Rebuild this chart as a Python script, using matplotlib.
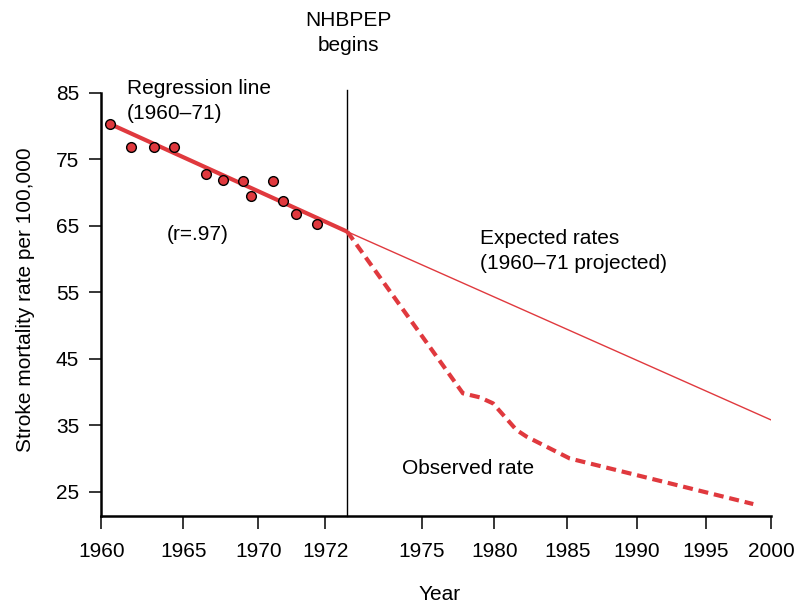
import numpy as np
import matplotlib as mpl
mpl.use('Agg')
import matplotlib.pyplot as plt

mpl.rcParams['font.family'] = ['Liberation Sans', 'DejaVu Sans']

RED = '#e0393e'

# observed 1960-71 rates (dots)
dot_years = [1960.53, 1961.80, 1963.23, 1964.43, 1966.49, 1967.62,
             1969.0, 1969.51, 1970.44, 1970.74, 1971.12, 1971.76]
dot_rates = [80.3, 76.9, 76.8, 76.8, 72.8, 71.9,
             71.8, 69.4, 71.7, 68.7, 66.7, 65.2]

# regression line and its projection
start_year = 1972.69
reg_years = [1960.53, start_year]
reg_rates = [80.3, 64.1]
proj_years = [start_year, 2000]
proj_rates = [64.1, 35.8]

# observed rate after program start
obs_years = [start_year, 1977.84, 1978.99, 1979.9, 1981.51, 1982.2, 1985.18, 1998.64]
obs_rates = [64.1, 39.8, 39.2, 38.3, 34.3, 33.3, 30.0, 23.15]

tick_years = [1960, 1965, 1970, 1972, 1975, 1980, 1985, 1990, 1995, 2000]

# the axis in the original is not evenly spaced: map years to positions
knot_years = [1950] + tick_years + [2010]
knot_pos = [-61.1, 102.3, 184, 259, 325.7, 422, 494.7, 567.5, 637.3, 705.7, 771, 901.6]

def fwd(x):
    return np.interp(x, knot_years, knot_pos)

def inv(p):
    return np.interp(p, knot_pos, knot_years)

fig = plt.figure(figsize=(8.04, 6.04), dpi=100)
ax = fig.add_axes([0.1262, 0.1462, 0.959 - 0.1262, 0.7003])
ax.set_xscale('function', functions=(fwd, inv))

ax.plot(proj_years, proj_rates, color=RED, lw=1.0, zorder=2)
ax.plot(reg_years, reg_rates, color=RED, lw=3.0, solid_capstyle='butt', zorder=3)
ax.plot(obs_years, obs_rates, color=RED, lw=3.0, dashes=(2.4, 1.4), zorder=3)
ax.plot(dot_years, dot_rates, 'o', ms=7, mfc=RED, mec='k', mew=1.0, zorder=4)
ax.plot([start_year, start_year], [21.4, 85.4], color='k', lw=1.0, clip_on=False, zorder=1)

ax.set_xlim(1960, 2000)
ax.set_ylim(21.4, 85)
ax.set_xticks(tick_years)
ax.set_xticklabels([str(y) for y in tick_years])
ax.set_yticks([25, 35, 45, 55, 65, 75, 85])
ax.xaxis.set_minor_locator(mpl.ticker.NullLocator())

for s in ['top', 'right']:
    ax.spines[s].set_visible(False)
for s in ['left', 'bottom']:
    ax.spines[s].set_linewidth(1.8)
ax.tick_params(axis='both', direction='out', length=9, width=1.1, labelsize=15)
ax.tick_params(axis='x', pad=10)
ax.tick_params(axis='y', pad=7)

ax.set_xlabel('Year', fontsize=15)
ax.xaxis.set_label_coords(0.5056, -0.1855)
ax.xaxis.label.set_va('center')
ax.set_ylabel('Stroke mortality rate per 100,000', fontsize=15)
ax.yaxis.set_label_coords(-0.1135, 0.51)
ax.yaxis.label.set_va('center')

def px(x, y):
    return x / 804, 1 - y / 604

fig.text(*px(348, 33), 'NHBPEP\nbegins', ha='center', va='center', fontsize=15, linespacing=1.35)
fig.text(*px(127, 101), 'Regression line\n(1960\u201371)', ha='left', va='center', fontsize=15, linespacing=1.35)
fig.text(*px(198, 235), '(r=.97)', ha='center', va='center', fontsize=15)
fig.text(*px(480, 251), 'Expected rates\n(1960\u201371 projected)', ha='left', va='center', fontsize=15, linespacing=1.35)
fig.text(*px(402, 469), 'Observed rate', ha='left', va='center', fontsize=15)

fig.savefig('out.png', dpi=100)
